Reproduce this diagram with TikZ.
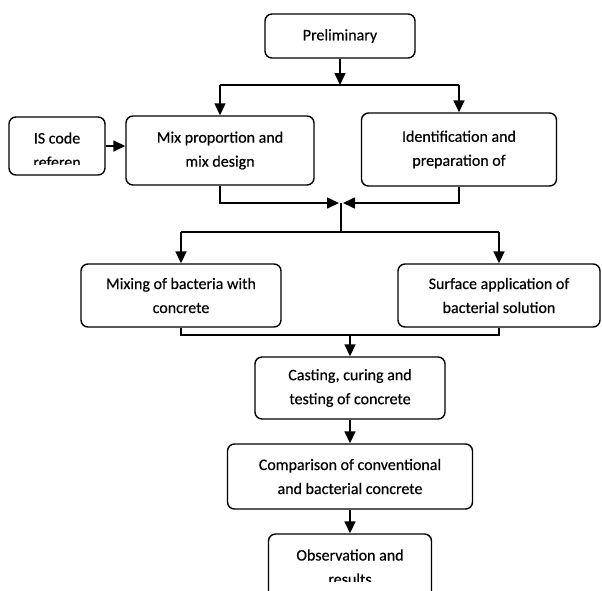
\documentclass[tikz,border=0pt]{standalone}
\usepackage{fontspec}
\setmainfont{Carlito}[FakeBold=0.4]
\usetikzlibrary{arrows.meta,positioning}

\begin{document}
\begin{tikzpicture}[x=1pt,y=-1pt]
\tikzset{
  stage/.style={rectangle, rounded corners=7pt, line width=1.4pt, draw=black, align=center, inner sep=0pt, font=\fontsize{16}{24}\selectfont},
  lined/.style={stage, execute at begin node={\rule{0pt}{17pt}}},
  connect/.style={-{Triangle[width=11pt,length=12pt]}, line width=1.6pt},
  link/.style={line width=1.6pt}
}
\clip (0,0) rectangle (602,590);
  \node[stage, minimum width=150pt, minimum height=44pt] (prelim) at (340,36) {Preliminary};
  \node[stage, minimum width=96pt, minimum height=58pt] (isbox) at (57,146) {};
  \begin{scope}
    \clip (8,110) rectangle (106,164);
    \node[lined, draw=none] (istext) at (57,150) {IS code\\referen};
  \end{scope}
  \node[lined, minimum width=188pt, minimum height=69pt] (mix) at (220,150.5) {Mix proportion and\\mix design};
  \node[lined, minimum width=195pt, minimum height=73pt] (ident) at (459,149.5) {Identification and\\preparation of};
  \node[lined, minimum width=200pt, minimum height=63pt] (mixing) at (181,295.5) {Mixing of bacteria with\\concrete};
  \node[lined, minimum width=202pt, minimum height=63pt] (surface) at (499,295.5) {Surface application of\\bacterial solution};
  \node[lined, minimum width=190pt, minimum height=62pt] (casting) at (350,388) {Casting, curing and\\testing of concrete};
  \node[lined, minimum width=245pt, minimum height=65pt] (compare) at (350,476.5) {Comparison of conventional\\and bacterial concrete};
  \node[stage, minimum width=163pt, minimum height=76pt] (obsbox) at (350,572) {};
  \begin{scope}
    \clip (260,530) rectangle (440,581);
    \node[lined, draw=none] (obstext) at (350,567) {Observation and\\results};
  \end{scope}
  % connectors
  \coordinate (split) at (340,85);
  \draw[connect] (prelim) -- (split);
  \draw[link] (mix.north |- split) -- (ident.north |- split);
  \draw[connect] (mix.north |- split) -- (mix.north);
  \draw[connect] (ident.north |- split) -- (ident.north);
  \draw[connect] (isbox) -- (isbox -| mix.west);
  \coordinate (merge) at (341,203);
  \draw[connect, shorten >=2pt] (mix.south) |- (merge);
  \draw[connect, shorten >=2pt] (ident.south) |- (merge);
  \coordinate (fork) at (341,232);
  \draw[link] (merge) -- (fork);
  \draw[link] (mixing.north |- fork) -- (surface.north |- fork);
  \draw[connect] (mixing.north |- fork) -- (mixing.north);
  \draw[connect] (surface.north |- fork) -- (surface.north);
  \coordinate (join) at (350,335);
  \draw[link] (mixing.south) |- (join) -| (surface.south);
  \draw[connect] (join) -- (casting.north);
  \draw[connect] (casting) -- (compare);
  \draw[connect] (compare) -- (obsbox);
\end{tikzpicture}
\end{document}
